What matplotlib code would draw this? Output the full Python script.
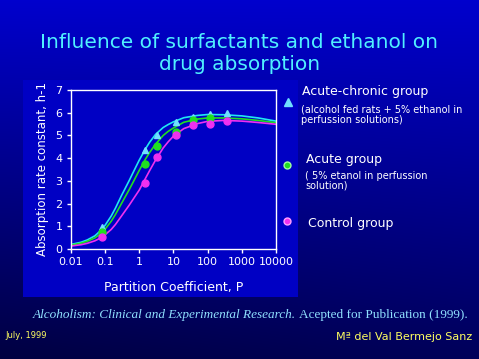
import numpy as np
import matplotlib as mpl
import matplotlib.pyplot as plt
from matplotlib.patches import Rectangle

# measured points
p_points = [0.08, 1.45, 3.4, 11.7, 36, 115, 370]
k_acute_chronic = [0.95, 4.35, 5.0, 5.6, 5.8, 5.95, 6.0]
p_acute = [0.08, 1.45, 3.4, 11.7, 36, 115]
k_acute = [0.75, 3.75, 4.55, 5.15, 5.7, 5.75]
k_control = [0.55, 2.9, 4.05, 5.0, 5.45, 5.5, 5.65]

# fitted curves
p_fit = [0.01, 0.02, 0.03, 0.05, 0.07, 0.1, 0.15, 0.2, 0.3, 0.5, 0.7, 1,
         1.5, 2, 3, 5, 7, 10, 20, 50, 100, 300, 1000, 3000, 10000]
fit_acute_chronic = [0.20, 0.30, 0.40, 0.58, 0.78, 1.05, 1.45, 1.80, 2.35,
                     3.00, 3.45, 3.92, 4.40, 4.70, 5.05, 5.35, 5.48, 5.60,
                     5.78, 5.88, 5.92, 5.91, 5.86, 5.77, 5.63]
fit_acute = [0.17, 0.26, 0.34, 0.49, 0.65, 0.88, 1.22, 1.52, 2.00, 2.60,
             3.02, 3.47, 3.95, 4.25, 4.62, 5.00, 5.18, 5.33, 5.58, 5.72,
             5.77, 5.77, 5.73, 5.66, 5.56]
fit_control = [0.13, 0.19, 0.25, 0.36, 0.47, 0.63, 0.86, 1.08, 1.45, 1.92,
               2.25, 2.60, 3.10, 3.45, 3.92, 4.45, 4.72, 4.97, 5.30, 5.52,
               5.62, 5.66, 5.63, 5.57, 5.49]

x_ticks = [0.01, 0.1, 1, 10, 100, 1000, 10000]
x_ticklabels = ['0.01', '0.1', '1', '10', '100', '1000', '10000']

CYAN = '#20e8f0'
TRI = '#70e0ff'
GREEN = '#20e020'
MAGENTA = '#f030f0'
TITLE = '#50f0ff'
YELLOW = '#ffff60'

W, H = 479, 359
fig = plt.figure(figsize=(W / 100, H / 100), dpi=100)

# background gradient
bg = fig.add_axes([0, 0, 1, 1])
t = np.linspace(0, 1, 256)[:, None]
s = np.linspace(0, 1, 64)[None, :]
blue = 205 - 115 * t - 25 * (1 - s) * t
img = np.zeros((256, 64, 3))
img[..., 2] = blue / 255
bg.imshow(img, aspect='auto', extent=[0, 1, 0, 1], origin='upper')
bg.set_xlim(0, 1)
bg.set_ylim(0, 1)
bg.axis('off')

# chart panel
bg.add_patch(Rectangle((23 / W, 1 - 297 / H), 275 / W, 217 / H,
                       facecolor='#0000c4', edgecolor='none'))

fig.text(0.5, 1 - 42 / H, 'Influence of surfactants and ethanol on',
         color=TITLE, fontsize=14.5, ha='center', va='center')
fig.text(0.5, 1 - 64 / H, 'drug absorption',
         color=TITLE, fontsize=14.5, ha='center', va='center')

ax = fig.add_axes([71 / W, 1 - 249 / H, 205 / W, 159 / H])
ax.set_facecolor('none')
ax.plot(p_fit, fit_acute_chronic, color=CYAN, lw=1.2)
ax.plot(p_fit, fit_acute, color=GREEN, lw=1.2)
ax.plot(p_fit, fit_control, color=MAGENTA, lw=1.2)
ax.plot(p_points, k_acute_chronic, '^', color=TRI, ms=5, mec=TRI)
ax.plot(p_acute, k_acute, 'o', color=GREEN, ms=5)
ax.plot(p_points, k_control, 'o', color=MAGENTA, ms=5)

ax.set_xscale('log')
ax.set_xlim(0.01, 10000)
ax.set_ylim(0, 7)
ax.set_xticks(x_ticks)
ax.set_xticklabels(x_ticklabels)
ax.xaxis.set_minor_locator(mpl.ticker.NullLocator())
ax.set_yticks(range(8))
for sp in ax.spines.values():
    sp.set_color('white')
    sp.set_linewidth(1)
ax.tick_params(colors='white', labelsize=8, length=3, width=1, pad=3)
ax.set_xlabel('Partition Coefficient, P', color='white', fontsize=9,
              labelpad=10)
ax.set_ylabel('Absorption rate constant, h-1', color='white', fontsize=8.5,
              labelpad=5)

# legend by hand
ax.plot([1.06], [0.927], '^', transform=ax.transAxes, clip_on=False,
        color=TRI, ms=6)
ax.plot([1.055], [0.53], 'o', transform=ax.transAxes, clip_on=False,
        color=GREEN, ms=5, mec='#a0ffa0')
ax.plot([1.055], [0.175], 'o', transform=ax.transAxes, clip_on=False,
        color=MAGENTA, ms=5, mec='#ffa0ff')

fig.text(302 / W, 1 - 92 / H, 'Acute-chronic group', color='white',
         fontsize=9, va='center')
fig.text(301 / W, 1 - 110 / H, '(alcohol fed rats + 5% ethanol in',
         color='white', fontsize=7, va='center')
fig.text(301 / W, 1 - 120 / H, 'perfussion solutions)',
         color='white', fontsize=7, va='center')
fig.text(306 / W, 1 - 160 / H, 'Acute group', color='white',
         fontsize=9, va='center')
fig.text(305 / W, 1 - 176 / H, '( 5% etanol in perfussion',
         color='white', fontsize=7, va='center')
fig.text(305 / W, 1 - 186 / H, 'solution)',
         color='white', fontsize=7, va='center')
fig.text(308 / W, 1 - 224 / H, 'Control group', color='white',
         fontsize=9, va='center')

# footer
ref_color = '#90e0ff'
t1 = fig.text(33 / W, 1 - 315 / H,
              'Alcoholism: Clinical and Experimental Research.',
              color=ref_color, fontsize=9.5, family='Liberation Serif',
              style='italic', va='center')
fig.canvas.draw()
bb = t1.get_window_extent()
fig.text(bb.x1 / W + 3 / W, 1 - 315 / H,
         'Acepted for Publication (1999).',
         color=ref_color, fontsize=9.5, family='Liberation Serif',
         va='center')
fig.text(5 / W, 1 - 335 / H, 'July, 1999', color=YELLOW, fontsize=6,
         va='center')
fig.text(472 / W, 1 - 337 / H, 'M\u00aa del Val Bermejo Sanz',
         color=YELLOW, fontsize=8, ha='right', va='center')

fig.savefig('out.png', dpi=100)
